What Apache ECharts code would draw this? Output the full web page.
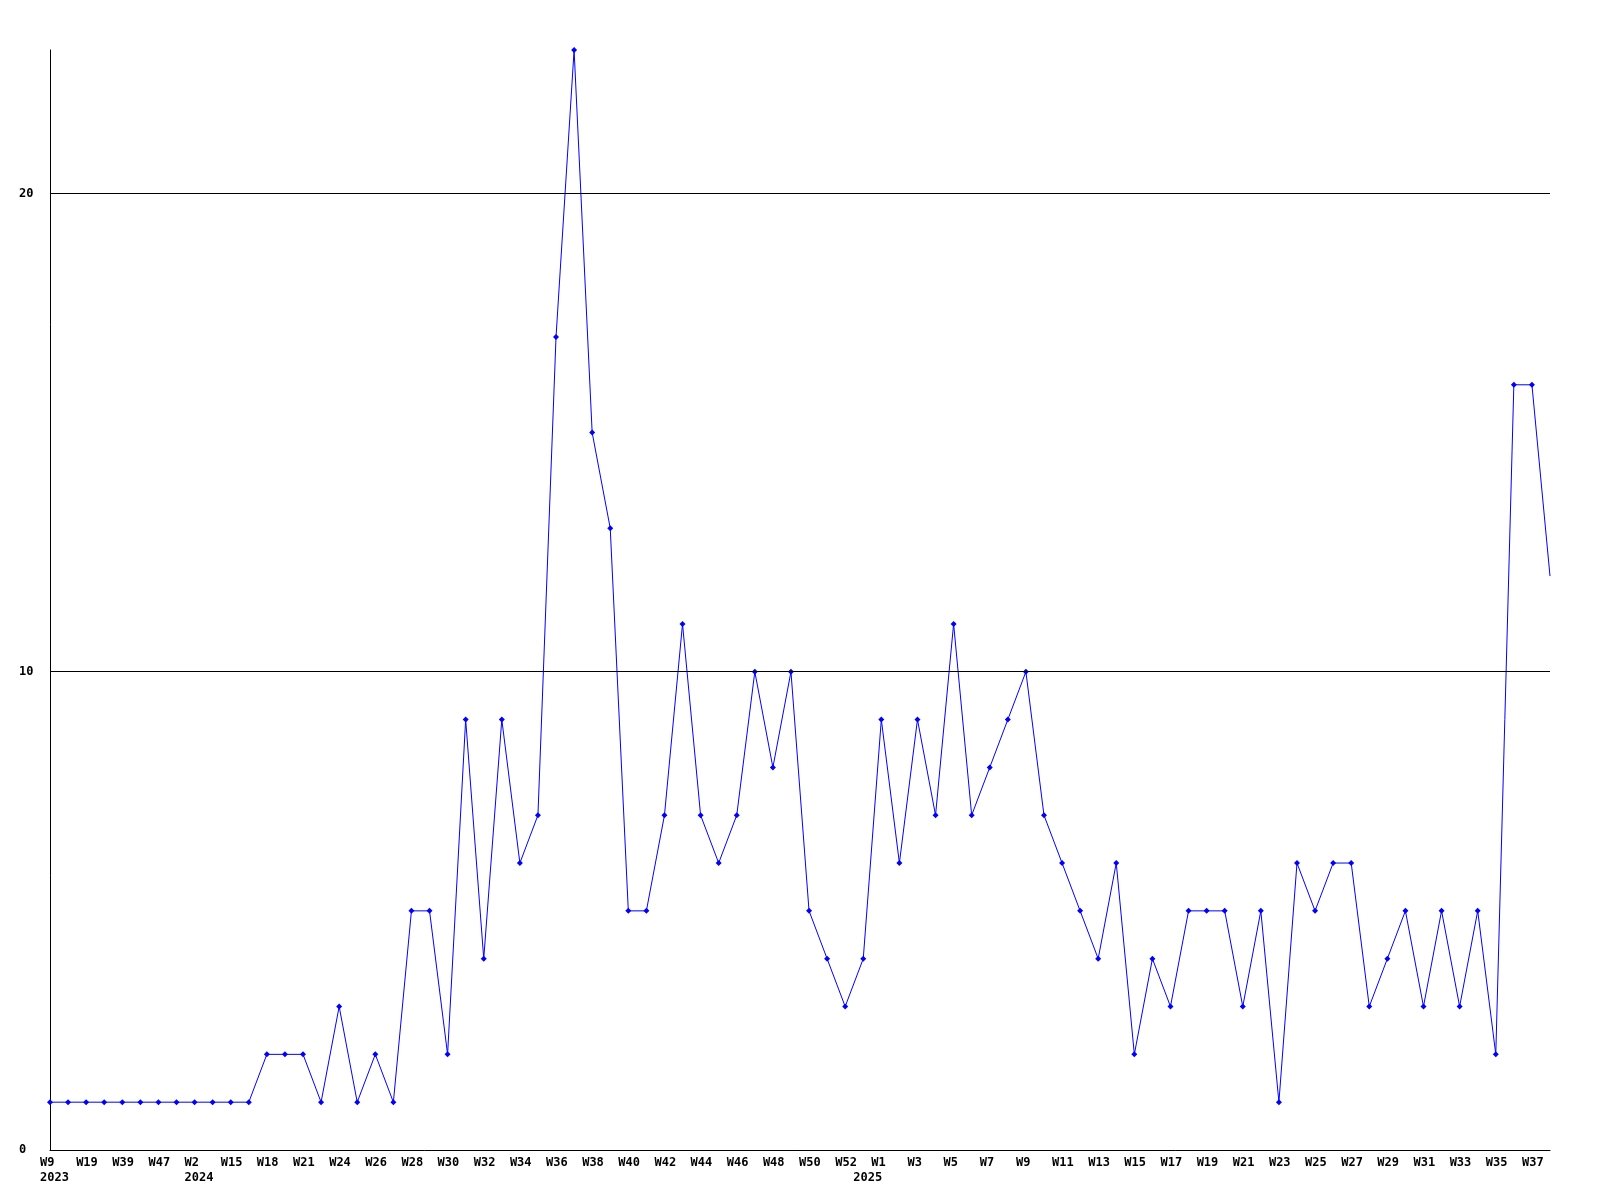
<!DOCTYPE html>
<html>
<head>
<meta charset="utf-8">
<script src="https://cdn.jsdelivr.net/npm/echarts@6/dist/echarts.min.js"></script>
<style>
html,body{margin:0;padding:0;background:#fff;}
#chart{width:1600px;height:1200px;}
</style>
</head>
<body>
<div id="chart"></div>
<script>
const weeks = ['W9','W14','W19','W31','W39','W43','W47','W50','W2','W10','W15','W17','W18','W20','W21','W23',
  'W24','W25','W26','W27','W28','W29','W30','W31','W32','W33','W34','W35','W36','W37','W38','W39','W40','W41',
  'W42','W43','W44','W45','W46','W47','W48','W49','W50','W51','W52','W0',
  'W1','W2','W3','W4','W5','W6','W7','W8','W9','W10','W11','W12','W13','W14','W15','W16','W17','W18','W19','W20',
  'W21','W22','W23','W24','W25','W26','W27','W28','W29','W30','W31','W32','W33','W34','W35','W36','W37','W38'];
const yearLabels = {0:'2023', 8:'2024', 45:'2025'};
const values = [1,1,1,1,1,1,1,1,1,1,1,1,2,2,2,1,3,1,2,1,5,5,2,9,4,9,6,7,17,23,15,13,5,5,7,11,7,6,7,10,8,10,5,4,3,4,
  9,6,9,7,11,7,8,9,10,7,6,5,4,6,2,4,3,5,5,5,3,5,1,6,5,6,6,3,4,5,3,5,3,5,2,16,16,12];
const yTicks = [0,10,20];
const yMax = 23;

const chart = echarts.init(document.getElementById('chart'), null, {renderer:'canvas'});
const font = {fontFamily:'DejaVu Sans Mono', fontWeight:'bold', fontSize:12, color:'#000'};
const seriesData = values.map((v, i) => i === values.length - 1 ? {value:v, symbol:'none'} : v);
chart.setOption({
  animation:false,
  backgroundColor:'#fff',
  grid:[
    {left:50, right:50, top:50, bottom:50},
    {left:40, right:60, top:50, bottom:50}
  ],
  xAxis:[
    {type:'category', gridIndex:0, data:weeks, boundaryGap:false,
      axisLine:{lineStyle:{color:'#000', width:1}}, axisTick:{show:false}, axisLabel:{show:false}, splitLine:{show:false}},
    {type:'category', gridIndex:1, data:weeks, boundaryGap:false,
      axisLine:{show:false}, axisTick:{show:false}, splitLine:{show:false},
      axisLabel:Object.assign({show:true, interval:0, align:'left', margin:5, lineHeight:15,
        formatter:function(v, i){
          const w = (i % 2 === 0) ? v : '';
          const y = yearLabels[i];
          return y ? (w + '\n' + y) : w;
        }}, font)}
  ],
  yAxis:[
    {type:'value', gridIndex:0, min:0, max:yMax, interval:10,
      axisLine:{show:true, lineStyle:{color:'#000', width:1}}, axisTick:{show:false}, splitLine:{show:false},
      axisLabel:Object.assign({align:'left', margin:31,
        formatter:function(v){ return yTicks.indexOf(v) >= 0 ? String(v) : ''; }}, font)},
    {type:'value', gridIndex:1, min:0, max:yMax, show:false}
  ],
  series:[{
    type:'line', xAxisIndex:0, yAxisIndex:0, data:seriesData,
    lineStyle:{color:'#0000ff', width:1},
    itemStyle:{color:'#0000ff'},
    symbol:'diamond', symbolSize:6, showAllSymbol:true,
    markLine:{silent:true, symbol:'none', label:{show:false},
      lineStyle:{color:'#000', width:1, type:'solid'},
      data: yTicks.filter(t => t > 0).map(t => ({yAxis:t}))}
  }]
});
</script>
</body>
</html>
